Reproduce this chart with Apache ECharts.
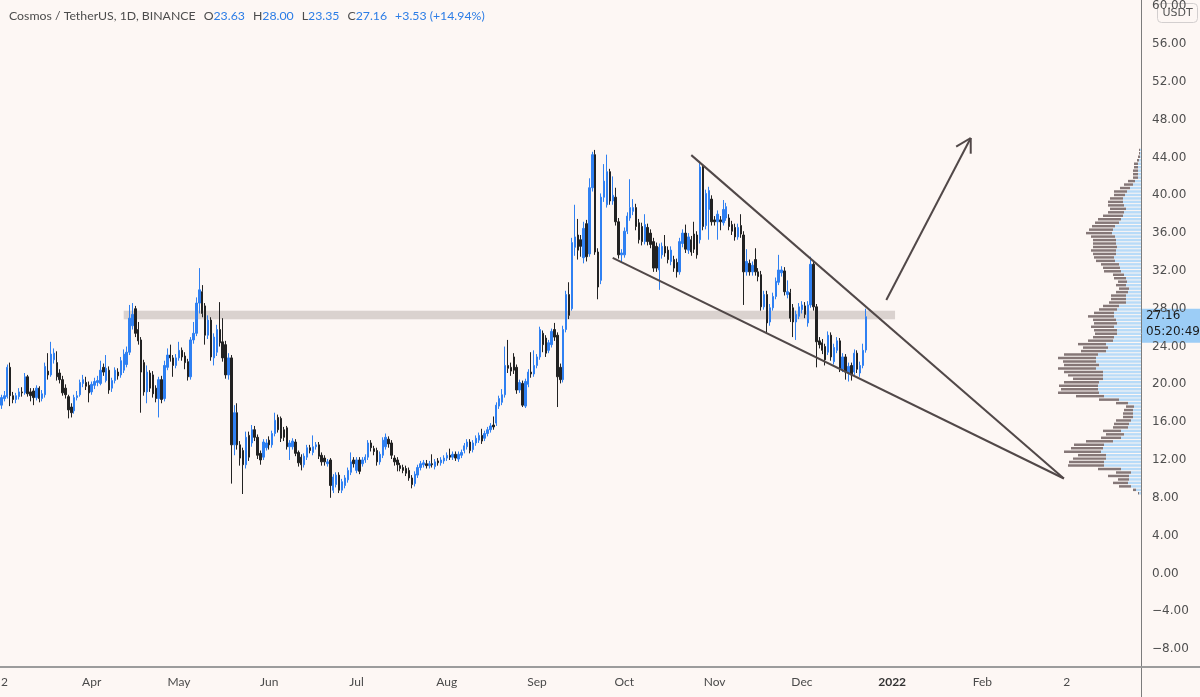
<!DOCTYPE html>
<html>
<head>
<meta charset="utf-8">
<title>Cosmos / TetherUS</title>
<script src="https://cdn.jsdelivr.net/npm/echarts@6/dist/echarts.min.js"></script>
<style>
  html, body { margin: 0; padding: 0; background: #fdf7f4; }
  #main { width: 1200px; height: 697px; }
</style>
</head>
<body>
<div id="main"></div>
<script>
// daily candles, [open, close, low, high]
var mar21 = [
  [17.8,18.6,17.4,18.9],[18.5,18.8,18.2,19.3],[18.7,21.8,18.5,22.1],[21.8,18.8,17.7,22.3],[18.8,18.4,18.0,19.2],
  [18.4,18.8,18.0,19.1],[18.7,19.2,18.4,19.6],[19.2,19.1,18.7,19.7],[19.1,20.8,18.9,21.2],[20.8,19.0,18.7,21.0],
  [19.2,18.8,18.2,19.6],[19.3,18.6,17.8,19.6],[18.6,19.6,18.3,19.9],[19.6,18.5,18.1,19.8],[18.5,19.0,18.2,19.4],
  [18.9,21.9,18.6,22.3],[21.4,21.0,20.5,23.3],[21.0,23.2,20.8,24.5],[22.6,23.3,22.2,23.8],[22.3,20.8,20.4,23.5],
  [21.2,20.5,20.1,21.6],[20.5,19.1,18.8,20.9],[19.6,18.9,18.5,20.0],[18.7,17.3,16.4,18.9],[17.6,17.0,16.5,18.0],
  [17.2,18.6,16.9,18.9],[18.6,18.8,18.3,19.3],[18.9,20.2,18.7,20.5],[20.1,20.5,19.7,21.0],[20.2,19.8,19.4,20.8],
  [19.9,19.1,18.1,20.3]
];
var apr21 = [
  [19.2,20.0,18.9,20.3],[19.9,20.3,19.5,20.7],[20.2,20.4,19.8,20.9],[20.1,21.5,19.9,22.5],[21.8,21.3,20.9,22.2],
  [20.4,21.7,20.2,23.1],[21.5,19.4,19.0,21.9],[19.6,20.4,19.2,20.7],[20.4,21.5,20.1,21.8],[21.3,20.9,20.5,21.7],
  [21.0,22.5,20.7,22.9],[21.5,23.2,21.2,23.7],[22.1,23.4,21.8,24.0],[23.4,27.0,23.1,28.4],[26.2,27.4,25.8,28.6],
  [28.0,25.4,25.0,28.3],[25.8,24.6,24.2,26.6],[24.7,21.3,17.0,25.0],[22.3,19.2,18.8,22.6],[19.2,21.3,18.0,22.0],
  [21.2,19.6,19.2,21.5],[21.0,19.0,18.6,21.4],[19.6,18.5,18.1,19.9],[18.5,20.5,16.5,20.8],[20.5,18.4,18.0,20.9],
  [18.5,22.0,18.2,22.5],[21.8,23.1,21.5,23.8],[23.1,22.8,22.4,24.2],[22.8,22.0,20.8,23.1],[22.0,22.8,21.7,23.2]
];
var may21 = [
  [22.8,23.6,22.5,24.5],[23.6,22.9,22.5,23.9],[23.0,22.3,21.6,23.4],[22.4,20.8,20.4,22.7],[20.8,24.7,20.5,25.0],
  [24.7,25.4,24.3,26.6],[25.4,28.6,25.1,29.2],[28.6,30.0,27.5,32.3],[29.8,27.5,27.1,30.5],[28.3,25.2,24.2,28.6],
  [25.2,26.8,24.8,27.3],[26.8,22.9,22.5,27.1],[22.8,25.0,22.0,25.4],[23.4,25.8,23.0,26.3],[25.8,24.4,24.0,28.7],
  [24.5,22.8,22.4,27.0],[24.2,21.0,20.6,24.6],[21.0,22.8,20.5,23.3],[22.8,13.6,9.5,23.1],[13.6,17.0,12.5,17.8],
  [17.0,13.6,13.1,18.0],[13.6,12.2,11.4,14.0],[13.0,11.5,8.4,13.3],[11.5,14.4,11.1,15.0],[14.6,12.3,11.9,15.0],
  [13.8,15.2,13.4,15.7],[15.2,14.4,14.0,15.6],[14.4,12.5,12.1,14.7],[12.7,12.0,11.5,13.0],[12.3,13.9,12.0,14.2],
  [13.3,13.8,13.0,14.2]
];
var jun21 = [
  [14.1,13.6,13.1,14.5],[13.6,14.8,13.3,15.1],[14.8,16.2,14.5,17.0],[16.5,15.2,14.9,16.8],[16.4,14.3,13.9,16.6],
  [15.2,14.4,14.0,15.5],[15.4,13.4,13.1,15.6],[13.4,13.8,12.0,14.1],[13.4,14.0,13.1,14.3],[13.9,12.7,12.4,14.2],
  [12.8,11.7,11.3,13.0],[12.3,11.5,10.9,12.6],[11.5,12.4,11.2,12.7],[12.3,13.3,12.0,13.6],[13.3,13.0,12.7,13.6],
  [12.8,13.4,12.5,14.6],[13.4,13.6,13.1,13.9],[13.6,12.4,12.1,13.9],[12.5,11.8,11.4,12.8],[12.2,11.8,11.4,12.5],
  [11.6,11.8,11.3,12.1],[12.0,9.3,8.0,12.2],[8.8,10.2,8.5,10.5],[9.4,10.4,9.1,10.7],[10.4,8.8,8.5,10.7],
  [8.8,9.7,8.5,10.0],[9.3,10.1,9.0,10.4],[9.9,10.9,9.6,11.2],[10.7,11.8,10.4,12.8],[12.0,11.6,11.2,12.3]
];
var jul21 = [
  [10.9,12.0,10.6,12.3],[12.0,10.8,10.5,12.3],[11.6,12.0,11.3,12.3],[12.0,12.3,11.7,12.6],[12.3,13.8,12.0,14.1],
  [13.8,13.3,12.9,14.1],[13.2,12.9,12.5,13.5],[13.0,11.8,11.4,13.3],[11.8,12.6,11.5,12.9],[12.5,14.1,12.2,14.4],
  [13.4,14.4,13.1,14.8],[14.2,13.7,13.3,14.5],[13.8,12.5,12.1,14.1],[12.2,11.8,11.4,12.5],[12.0,11.5,10.8,12.3],
  [11.4,11.1,10.8,11.7],[11.2,10.9,10.6,11.5],[11.1,10.6,10.3,11.4],[10.9,10.1,9.8,11.2],[10.1,9.4,9.0,10.4],
  [9.5,10.5,9.2,10.8],[10.4,11.2,10.1,11.5],[11.2,11.6,10.9,11.9],[11.5,11.7,11.2,12.0],[11.6,11.4,11.1,12.0],
  [11.4,11.6,11.1,11.9],[11.6,11.5,11.2,12.6],[11.3,11.8,11.0,12.1],[11.9,11.7,11.4,12.2],[11.7,12.0,11.4,12.3],
  [11.9,12.2,11.6,12.5]
];
var aug21 = [
  [12.2,12.5,11.9,12.8],[12.5,12.3,12.0,13.2],[12.3,12.6,12.0,12.9],[12.6,12.2,11.9,12.9],[12.1,12.6,11.8,12.9],
  [12.5,12.8,12.2,13.1],[13.0,13.5,12.7,13.8],[13.4,13.9,13.1,14.2],[13.9,13.0,12.7,14.2],[13.1,13.8,12.8,14.1],
  [13.8,14.3,13.5,14.6],[14.1,14.6,13.8,14.9],[14.6,14.0,13.7,15.3],[14.3,14.8,14.0,15.1],[14.8,15.2,14.5,15.5],
  [15.2,15.6,14.9,15.9],[15.7,15.5,15.2,16.6],[15.9,17.8,15.6,18.1],[17.7,18.5,17.4,18.8],[18.1,18.9,17.8,19.5],
  [18.9,22.0,18.6,24.0],[22.0,21.7,21.2,24.7],[21.8,21.4,20.9,22.3],[22.9,21.5,21.1,23.3],[21.8,19.4,19.0,22.1],
  [19.4,20.2,19.1,20.5],[20.1,17.8,17.6,20.4],[17.7,20.3,17.5,20.6],[20.0,21.3,19.7,21.6],[21.3,21.1,20.7,23.4],
  [21.1,22.0,20.8,23.6]
];
var sep21 = [
  [22.0,22.9,21.7,23.2],[22.9,25.8,22.6,26.1],[25.4,24.2,23.4,25.7],[24.9,23.3,22.9,25.2],[23.6,24.4,23.3,24.7],
  [24.2,25.6,23.9,25.9],[25.8,25.0,24.6,26.5],[25.2,20.8,17.6,25.5],[21.8,20.5,20.1,22.2],[20.5,25.8,20.2,26.2],
  [25.8,29.5,25.5,29.9],[29.5,27.3,26.9,30.8],[28.0,35.0,27.8,35.5],[34.5,35.6,33.6,39.0],[35.8,34.2,33.2,37.5],
  [35.3,34.6,33.5,35.8],[33.4,36.5,32.8,37.2],[37.0,33.5,33.0,37.4],[33.8,40.8,33.5,41.8],[40.8,44.3,40.4,44.6],
  [44.3,34.0,33.7,44.8],[34.0,30.3,29.0,34.4],[31.0,39.8,30.6,40.2],[39.8,41.5,39.3,43.3],[39.0,42.5,38.7,44.3],
  [42.5,39.4,39.0,42.8],[39.4,40.0,39.0,42.0],[39.8,37.2,36.8,40.8],[37.2,33.7,33.3,37.6],[33.7,33.9,32.9,34.3]
];
var oct21 = [
  [33.7,36.2,33.4,36.6],[36.2,37.8,35.9,38.2],[37.6,38.7,37.3,41.7],[38.3,38.7,37.9,39.6],[38.7,36.7,36.3,39.1],
  [37.1,35.3,34.9,37.5],[36.7,35.1,34.7,37.1],[35.1,36.9,34.8,38.0],[36.6,35.1,34.7,37.0],[36.0,34.8,34.4,36.4],
  [35.1,32.3,31.9,35.5],[34.6,32.3,31.9,35.0],[32.1,34.5,30.0,34.9],[33.7,34.6,33.3,35.0],[34.6,33.9,33.5,35.8],
  [34.2,33.2,32.8,34.6],[33.0,34.2,32.6,34.6],[33.2,32.3,31.9,33.6],[32.9,31.9,31.3,33.3],[31.9,35.1,31.6,35.5],
  [34.9,36.0,34.5,36.4],[36.0,34.3,33.9,36.9],[34.2,35.6,33.8,36.0],[35.3,34.0,33.6,35.7],[35.9,34.3,33.9,37.2],
  [35.8,33.7,33.3,36.2],[35.3,43.0,34.9,43.4],[43.0,36.7,36.3,43.3],[36.8,40.2,36.4,40.6],[38.5,40.5,35.3,40.9],
  [39.6,37.2,36.8,40.0]
];
var nov21 = [
  [37.4,37.2,36.8,37.8],[37.2,38.0,35.3,38.4],[37.4,37.2,36.3,37.8],[37.1,38.5,36.8,39.5],[37.6,38.8,37.3,39.2],
  [37.6,36.7,36.3,38.0],[36.9,36.2,35.8,37.3],[36.6,35.6,35.2,37.0],[35.6,36.6,35.3,37.0],[36.8,35.9,35.5,38.0],
  [35.8,31.9,28.4,36.2],[31.9,33.0,31.5,34.3],[32.8,31.9,31.5,33.2],[31.9,32.6,31.5,33.0],[33.2,31.9,31.5,34.4],
  [31.9,31.4,30.9,32.3],[31.6,28.2,27.8,32.0],[28.2,29.5,27.9,29.9],[29.5,26.5,25.4,29.9],[26.6,28.1,26.2,28.5],
  [28.1,29.3,27.8,29.7],[29.3,30.9,29.0,31.3],[30.8,32.1,30.5,33.7],[31.8,32.1,31.4,32.5],[32.0,29.8,29.4,32.4],
  [29.5,29.8,29.1,31.0],[29.7,27.0,26.6,30.1],[28.1,26.6,25.0,28.5],[26.6,27.4,24.7,27.8],[27.2,28.2,26.9,28.6]
];
var dec21 = [
  [27.9,28.4,27.5,28.8],[28.3,27.4,27.0,28.7],[26.5,28.4,26.1,28.8],[28.4,32.7,28.1,33.5],[32.7,28.2,27.8,33.1],
  [28.2,24.5,21.8,28.5],[24.6,24.2,23.8,25.0],[24.4,23.6,23.2,24.8],[24.0,22.6,22.0,24.3],[23.4,25.2,23.1,25.6],
  [25.2,22.9,22.5,25.5],[22.4,23.9,22.1,24.3],[23.6,24.6,23.3,25.0],[24.6,21.7,21.3,24.9],[21.6,22.9,21.3,23.3],
  [22.9,21.3,20.5,23.2],[21.2,21.9,20.3,22.3],[22.0,21.0,20.4,22.3],[21.3,23.3,21.0,23.7],[23.3,21.6,21.2,23.6],
  [21.2,22.0,20.8,22.4],[22.0,23.6,21.7,24.3],[23.63,27.16,23.35,28.0]
];

// volume profile rows, from the lowest price row upwards
var profUp = [2,5,10,13,12,12,10,20,37,37,35,35,40,38,37,28,20,17,20,13,12,10,8,8,8,7,13,22,37,42,
  43,43,42,38,38,38,45,42,45,45,43,35,33,35,28,27,24,24,27,24,25,27,27,24,22,15,15,15,13,12,
  15,14,15,17,20,21,22,26,27,25,25,24,25,25,26,29,28,26,22,20,18,17,15,17,18,18,16,14,11,8,
  6,3,3,3,3,3,2,1,1,1];
var profDown = [1,3,12,15,11,21,15,23,36,35,33,28,37,32,30,27,20,18,18,15,15,15,10,10,9,8,12,20,28,41,
  37,39,35,30,35,39,38,35,33,38,34,25,25,28,25,21,22,23,23,23,23,26,20,18,16,17,15,15,12,10,
  10,9,12,11,17,17,18,19,20,23,25,24,23,23,24,26,24,23,24,23,20,16,16,16,15,13,11,13,10,9,
  7,5,5,5,4,4,2,2,1,1];
var profLow = 8.29;
var profRow = 0.367;
var profMax = 1141;

var yTicks = [-8, -4, 0, 4, 8, 12, 16, 20, 24, 28, 32, 36, 40, 44, 48, 52, 56, 60];
var tickLabels = {
  '2021-03-02': '2', '2021-04-01': 'Apr', '2021-05-01': 'May', '2021-06-01': 'Jun',
  '2021-07-01': 'Jul', '2021-08-01': 'Aug', '2021-09-01': 'Sep', '2021-10-01': 'Oct',
  '2021-11-01': 'Nov', '2021-12-01': 'Dec', '2022-01-01': '2022', '2022-02-01': 'Feb',
  '2022-03-02': '2'
};

// drawings
var upperLine = [['2021-10-24', 44.25], ['2022-03-01', 10.04]];
var lowerLine = [['2021-09-27', 33.37], ['2022-03-01', 10.04]];
var arrowLine = [['2021-12-30', 28.92], ['2022-01-28', 46.06]];
var arrowWingA = [['2022-01-23', 45.15], ['2022-01-28', 46.06]];
var arrowWingB = [['2022-01-28', 46.06], ['2022-01-28', 44.4]];
var band = { from: '2021-04-12', to: '2022-01-02', top: 27.79, bottom: 26.88 };
var lastClose = 27.16;
var countdown = '05:20:49';

function dayList(y, m, d, count) {
  var out = [];
  var t = Date.UTC(y, m - 1, d);
  for (var i = 0; i < count; i++) {
    out.push(new Date(t + i * 86400000).toISOString().slice(0, 10));
  }
  return out;
}

var days = dayList(2021, 3, 1, 392);
var ohlc = [].concat(mar21, apr21, may21, jun21, jul21, aug21, sep21, oct21, nov21, dec21);
var profRows = profUp.map(function (u, k) {
  return [profLow + (k + 0.5) * profRow, u, profDown[k]];
});

var upColor = '#2f80f2';
var downColor = '#222222';
var drawColor = '#514848';

function fmtPrice(v) {
  return v < 0 ? '\u2212' + Math.abs(v).toFixed(2) : v.toFixed(2);
}

function renderProfile(params, api) {
  var p = api.value(0);
  var up = api.value(1);
  var dn = api.value(2);
  var h = api.size([0, profRow])[1];
  var r = api.coord([0, p]);
  var m = api.coord([up, p]);
  var l = api.coord([up + dn, p]);
  var top = r[1] - h / 2 + 0.5;
  return {
    type: 'group',
    children: [
      { type: 'rect', shape: { x: m[0], y: top, width: r[0] - m[0], height: h - 1 },
        style: { fill: '#b8dbf8' } },
      { type: 'rect', shape: { x: l[0], y: top, width: m[0] - l[0], height: h - 1 },
        style: { fill: '#857777' } }
    ]
  };
}

function trend(data) {
  return {
    type: 'line',
    data: data,
    showSymbol: false,
    silent: true,
    z: 5,
    lineStyle: { color: drawColor, width: 2 }
  };
}

var chart = echarts.init(document.getElementById('main'), null, { renderer: 'canvas' });

var labelPad = [0, 0, 0, 8];

var option = {
  backgroundColor: '#fdf7f4',
  animation: false,
  title: {
    left: 9,
    top: 10,
    padding: 0,
    text: '{n|Cosmos / TetherUS, 1D, BINANCE}{l|O}{v|23.63}{l|H}{v|28.00}{l|L}{v|23.35}{l|C}{v|27.16}{p|+3.53 (+14.94%)}',
    textStyle: {
      fontFamily: 'Lato',
      fontSize: 12.3,
      fontWeight: 'normal',
      rich: {
        n: { color: '#4c4c4c', fontFamily: 'Lato', fontSize: 12.3 },
        l: { color: '#4c4c4c', fontFamily: 'Lato', fontSize: 12.3, padding: labelPad },
        v: { color: '#2c7de6', fontFamily: 'Lato', fontSize: 12.3 },
        p: { color: '#2c7de6', fontFamily: 'Lato', fontSize: 12.3, padding: labelPad }
      }
    }
  },
  grid: {
    left: 0,
    right: 59,
    top: 0,
    bottom: 30,
    containLabel: false,
    outerBoundsMode: 'none'
  },
  xAxis: [
    {
      type: 'category',
      data: days,
      boundaryGap: true,
      axisLine: { show: true, onZero: false, lineStyle: { color: '#9c9c9c', width: 2 } },
      axisTick: { show: false },
      splitLine: { show: false },
      axisLabel: {
        interval: function (idx, value) { return tickLabels[value] !== undefined; },
        formatter: function (value) {
          var t = tickLabels[value];
          return t === '2022' ? '{b|2022}' : t;
        },
        color: '#4a4a4a',
        fontFamily: 'Lato',
        fontSize: 12,
        margin: 9,
        rich: { b: { fontWeight: 'bold', color: '#333', fontFamily: 'Lato', fontSize: 12 } }
      }
    },
    {
      type: 'value',
      position: 'top',
      show: false,
      min: 0,
      max: profMax,
      inverse: true,
      axisLine: { onZero: false }
    }
  ],
  yAxis: {
    type: 'value',
    position: 'right',
    min: -9.9,
    max: 60.66,
    axisLine: { show: true, onZero: false, lineStyle: { color: '#7c7c7c', width: 1 } },
    axisTick: { show: false },
    splitLine: { show: false },
    axisLabel: {
      customValues: yTicks,
      formatter: fmtPrice,
      color: '#4f4f4f',
      fontFamily: 'DejaVu Sans',
      fontSize: 12,
      margin: 11
    }
  },
  series: [
    {
      type: 'custom',
      name: 'profile',
      xAxisIndex: 1,
      yAxisIndex: 0,
      silent: true,
      z: 1,
      renderItem: renderProfile,
      encode: { x: [1, 2], y: 0 },
      data: profRows
    },
    {
      type: 'candlestick',
      name: 'ATOMUSDT',
      xAxisIndex: 0,
      yAxisIndex: 0,
      z: 3,
      barWidth: 1.9,
      itemStyle: {
        color: upColor,
        color0: downColor,
        borderColor: upColor,
        borderColor0: downColor,
        borderWidth: 1
      },
      data: ohlc,
      markArea: {
        silent: true,
        itemStyle: { color: 'rgba(150,138,136,0.34)' },
        data: [[
          { coord: [days.indexOf(band.from), band.top] },
          { coord: [days.indexOf(band.to), band.bottom] }
        ]]
      }
    },
    trend(upperLine),
    trend(lowerLine),
    trend(arrowLine),
    trend(arrowWingA),
    trend(arrowWingB)
  ]
};

chart.setOption(option);

// price tag on the axis and the currency badge
var py = chart.convertToPixel({ yAxisIndex: 0 }, lastClose);
chart.setOption({
  graphic: [
    { type: 'line', shape: { x1: 1141.5, y1: 667, x2: 1141.5, y2: 697 }, style: { stroke: '#7c7c7c', lineWidth: 1 } },
    { type: 'line', shape: { x1: 1141, y1: 667, x2: 1200, y2: 667 }, style: { stroke: '#9c9c9c', lineWidth: 2 } },
    {
      type: 'group',
      left: 1142,
      top: py - 8,
      children: [
        { type: 'rect', shape: { x: 0, y: 0, width: 58, height: 34 }, style: { fill: '#9ccdf6' } },
        { type: 'text', x: 4, y: 1, style: { text: lastClose.toFixed(2), fill: '#1b1b1b', font: '12px "DejaVu Sans"' } },
        { type: 'text', x: 4, y: 17, style: { text: countdown, fill: '#1b1b1b', font: '12px "DejaVu Sans"' } }
      ]
    },
    {
      type: 'group',
      left: 1157,
      top: 3,
      children: [
        { type: 'rect', shape: { x: 0, y: 0, width: 40, height: 19, r: 4 }, style: { fill: '#fdf7f4', stroke: '#d3cfcf', lineWidth: 1 } },
        { type: 'text', x: 20, y: 10, style: { text: 'USDT', fill: '#555', font: '11px "DejaVu Sans"', align: 'center', verticalAlign: 'middle' } }
      ]
    }
  ]
});
</script>
</body>
</html>
